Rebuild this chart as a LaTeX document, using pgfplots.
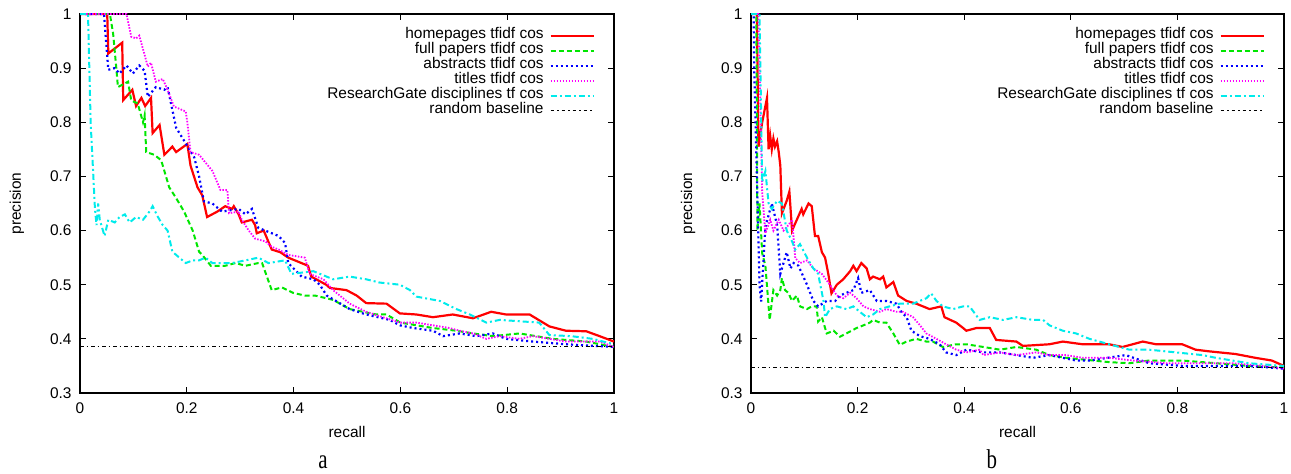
\documentclass[border=0pt]{standalone}
\usepackage{fontspec}
\setmainfont{Liberation Sans}
\newfontfamily\seriffont{Liberation Serif}
\usepackage{graphicx}
\usepackage{pgfplots}
\pgfplotsset{compat=1.18}

\definecolor{cred}{RGB}{255,0,0}
\definecolor{cgreen}{RGB}{0,230,0}
\definecolor{cblue}{RGB}{0,0,255}
\definecolor{cmag}{RGB}{255,0,255}
\definecolor{ccyan}{RGB}{0,235,235}

\tikzset{
  panellabel/.style={anchor=base, inner sep=0pt, font=\seriffont\fontsize{21}{21}\selectfont},
  sred/.style={cred, solid, line width=2.2bp},
  sgreen/.style={cgreen, line width=2bp, dash pattern=on 5bp off 3bp},
  sblue/.style={cblue, line width=2.2bp, dash pattern=on 2bp off 3bp},
  smag/.style={cmag, line width=1.8bp, dash pattern=on 1.5bp off 1.5bp},
  scyan/.style={ccyan, line width=2bp, dash pattern=on 6bp off 3bp on 2bp off 3bp},
  sbase/.style={black, line width=1.6bp, dash pattern=on 3.5bp off 3bp on 1.5bp off 3bp},
}

\pgfplotsset{
  prstyle/.style={
    scale only axis,
    width=534bp, height=379bp,
    xmin=0, xmax=1, ymin=0.3, ymax=1,
    xtick={0,0.2,0.4,0.6,0.8,1},
    ytick={0.3,0.4,0.5,0.6,0.7,0.8,0.9,1},
    font=\fontsize{15.5}{18}\selectfont,
    /pgf/number format/assume math mode=true,
    axis line style={black, line width=1.3bp},
    every tick/.style={black, line width=1bp},
    major tick length=6bp,
    tick align=inside,
    xlabel={recall}, ylabel={precision},
    xlabel style={at={(axis description cs:0.5,0)}, anchor=center, yshift=-39bp},
    ylabel style={at={(axis description cs:-0.118,0.5)}, anchor=center},
    xticklabel style={yshift=-6.5bp},
    yticklabel style={xshift=-5bp},
    legend cell align=right,
    legend plot pos=right,
    legend image code/.code={\draw[##1] (0bp,0bp) -- (43bp,0bp);},
    legend style={at={(1,1)}, anchor=north east, xshift=-19bp, yshift=-14bp,
      draw=none, fill=none, inner sep=0pt, row sep=0pt, column sep=6bp,
      font=\fontsize{15.5}{15.5}\selectfont,
      nodes={inner sep=0pt, text height=10.6bp, text depth=4.4bp}},
    clip mode=individual,
  },
}

\begin{document}
\begin{tikzpicture}
\useasboundingbox (0,0) rectangle (1291bp,474bp);

% ---------------- panel a ----------------
\begin{axis}[prstyle, at={(80bp,81bp)}, anchor=south west]
\addplot[sred] coordinates {(0,1)(0.051,1)(0.053,0.927)(0.079,0.947)(0.081,0.841)(0.098,0.86)(0.105,0.83)(0.115,0.845)(0.122,0.83)(0.133,0.845)(0.136,0.78)(0.149,0.795)(0.158,0.74)(0.173,0.755)(0.18,0.745)(0.201,0.76)(0.207,0.72)(0.22,0.68)(0.229,0.665)(0.238,0.625)(0.257,0.635)(0.272,0.645)(0.285,0.64)(0.288,0.645)(0.297,0.63)(0.303,0.615)(0.322,0.62)(0.328,0.61)(0.331,0.595)(0.344,0.6)(0.359,0.565)(0.375,0.56)(0.39,0.55)(0.427,0.535)(0.433,0.515)(0.461,0.5)(0.468,0.494)(0.499,0.49)(0.518,0.48)(0.536,0.466)(0.574,0.465)(0.599,0.447)(0.63,0.445)(0.661,0.44)(0.698,0.445)(0.736,0.438)(0.77,0.45)(0.798,0.445)(0.842,0.445)(0.879,0.423)(0.91,0.415)(0.948,0.414)(0.973,0.405)(1,0.395)};
\addlegendentry{homepages tfidf cos}
\addplot[sgreen] coordinates {(0,1)(0.056,1)(0.062,0.964)(0.068,0.9)(0.071,0.865)(0.09,0.875)(0.096,0.84)(0.108,0.835)(0.118,0.8)(0.121,0.813)(0.124,0.745)(0.139,0.74)(0.152,0.73)(0.167,0.68)(0.18,0.66)(0.195,0.635)(0.211,0.6)(0.223,0.561)(0.229,0.555)(0.245,0.535)(0.272,0.535)(0.291,0.54)(0.31,0.535)(0.334,0.54)(0.341,0.54)(0.359,0.49)(0.378,0.495)(0.399,0.485)(0.421,0.48)(0.44,0.48)(0.474,0.472)(0.505,0.455)(0.555,0.445)(0.574,0.445)(0.6,0.43)(0.661,0.42)(0.705,0.415)(0.736,0.41)(0.773,0.405)(0.823,0.41)(0.885,0.4)(0.948,0.395)(1,0.385)};
\addlegendentry{full papers tfidf cos}
\addplot[sblue] coordinates {(0,1)(0.045,1)(0.048,0.96)(0.053,0.897)(0.065,0.9)(0.074,0.89)(0.087,0.905)(0.099,0.89)(0.111,0.905)(0.121,0.895)(0.127,0.847)(0.142,0.865)(0.158,0.86)(0.164,0.865)(0.18,0.79)(0.198,0.761)(0.214,0.735)(0.223,0.7)(0.232,0.654)(0.248,0.65)(0.266,0.635)(0.297,0.64)(0.31,0.63)(0.322,0.64)(0.334,0.605)(0.372,0.59)(0.384,0.577)(0.39,0.54)(0.415,0.515)(0.437,0.51)(0.449,0.5)(0.462,0.48)(0.505,0.455)(0.536,0.445)(0.58,0.435)(0.599,0.425)(0.624,0.42)(0.661,0.415)(0.68,0.405)(0.711,0.41)(0.742,0.405)(0.773,0.41)(0.798,0.4)(0.848,0.395)(0.91,0.39)(1,0.385)};
\addlegendentry{abstracts tfidf cos}
\addplot[smag] coordinates {(0,1)(0.087,1)(0.096,0.958)(0.105,0.955)(0.111,0.96)(0.127,0.903)(0.133,0.91)(0.142,0.875)(0.155,0.88)(0.164,0.86)(0.176,0.829)(0.198,0.82)(0.201,0.8)(0.207,0.745)(0.223,0.74)(0.248,0.71)(0.263,0.675)(0.276,0.675)(0.279,0.632)(0.297,0.635)(0.303,0.62)(0.316,0.6)(0.328,0.585)(0.347,0.58)(0.359,0.57)(0.372,0.565)(0.39,0.555)(0.421,0.55)(0.43,0.52)(0.456,0.51)(0.474,0.49)(0.505,0.465)(0.536,0.45)(0.567,0.44)(0.6,0.43)(0.63,0.43)(0.661,0.425)(0.692,0.42)(0.711,0.415)(0.736,0.41)(0.761,0.4)(0.786,0.405)(0.823,0.4)(0.848,0.405)(0.91,0.395)(0.973,0.395)(1,0.385)};
\addlegendentry{titles tfidf cos}
\addplot[scyan] coordinates {(0,1)(0.015,1)(0.02,0.798)(0.025,0.7)(0.028,0.64)(0.031,0.61)(0.034,0.65)(0.037,0.62)(0.046,0.59)(0.053,0.62)(0.065,0.615)(0.074,0.625)(0.084,0.63)(0.093,0.615)(0.105,0.625)(0.118,0.62)(0.13,0.635)(0.136,0.645)(0.146,0.625)(0.155,0.61)(0.164,0.6)(0.173,0.561)(0.186,0.55)(0.198,0.54)(0.211,0.545)(0.223,0.545)(0.235,0.55)(0.248,0.54)(0.285,0.54)(0.31,0.545)(0.334,0.55)(0.353,0.54)(0.384,0.545)(0.396,0.52)(0.437,0.525)(0.474,0.51)(0.505,0.515)(0.536,0.51)(0.561,0.504)(0.599,0.5)(0.618,0.49)(0.63,0.478)(0.674,0.47)(0.705,0.455)(0.73,0.445)(0.761,0.43)(0.786,0.435)(0.86,0.43)(0.879,0.407)(0.92,0.405)(0.96,0.4)(1,0.39)};
\addlegendentry{ResearchGate disciplines tf cos}
\addplot[sbase] coordinates {(0,0.386)(1,0.386)};
\addlegendentry{random baseline}
\node[panellabel] at (axis description cs:0.455,0) [yshift=-75bp] {\scalebox{1}[1.3]{a}};
\end{axis}

% ---------------- panel b ----------------
\begin{axis}[prstyle, at={(751bp,81bp)}, anchor=south west, width=533bp]
\addplot[sred] coordinates {(0,1)(0.011,1)(0.014,0.755)(0.021,0.8)(0.03,0.845)(0.033,0.75)(0.036,0.775)(0.039,0.75)(0.042,0.77)(0.045,0.755)(0.049,0.765)(0.052,0.745)(0.055,0.72)(0.058,0.632)(0.067,0.655)(0.072,0.672)(0.077,0.6)(0.086,0.62)(0.095,0.64)(0.098,0.63)(0.108,0.65)(0.114,0.645)(0.12,0.59)(0.126,0.59)(0.133,0.56)(0.139,0.55)(0.145,0.52)(0.151,0.484)(0.161,0.5)(0.173,0.51)(0.186,0.525)(0.192,0.535)(0.198,0.525)(0.207,0.54)(0.217,0.53)(0.223,0.51)(0.229,0.515)(0.242,0.51)(0.248,0.515)(0.254,0.495)(0.267,0.505)(0.276,0.48)(0.292,0.47)(0.31,0.465)(0.335,0.455)(0.357,0.46)(0.363,0.44)(0.385,0.43)(0.398,0.42)(0.404,0.415)(0.423,0.42)(0.448,0.42)(0.46,0.398)(0.498,0.395)(0.51,0.387)(0.56,0.39)(0.585,0.395)(0.622,0.39)(0.672,0.39)(0.697,0.385)(0.735,0.395)(0.76,0.39)(0.809,0.39)(0.834,0.38)(0.859,0.377)(0.909,0.372)(0.946,0.365)(0.977,0.36)(1,0.35)};
\addlegendentry{homepages tfidf cos}
\addplot[sgreen] coordinates {(0,1)(0.01,1)(0.012,0.6)(0.016,0.65)(0.021,0.558)(0.027,0.535)(0.035,0.435)(0.042,0.49)(0.049,0.48)(0.055,0.49)(0.058,0.512)(0.064,0.49)(0.07,0.485)(0.077,0.47)(0.086,0.48)(0.092,0.46)(0.105,0.455)(0.114,0.46)(0.123,0.46)(0.126,0.432)(0.133,0.44)(0.142,0.41)(0.155,0.415)(0.167,0.404)(0.179,0.41)(0.198,0.42)(0.211,0.425)(0.223,0.43)(0.229,0.435)(0.242,0.43)(0.254,0.43)(0.267,0.41)(0.279,0.389)(0.292,0.395)(0.31,0.4)(0.329,0.395)(0.341,0.395)(0.36,0.385)(0.385,0.39)(0.404,0.39)(0.436,0.385)(0.467,0.38)(0.498,0.385)(0.535,0.38)(0.56,0.37)(0.591,0.365)(0.622,0.362)(0.672,0.357)(0.71,0.355)(0.747,0.36)(0.809,0.36)(0.872,0.355)(0.934,0.35)(1,0.347)};
\addlegendentry{full papers tfidf cos}
\addplot[sblue] coordinates {(0,1)(0.005,1)(0.006,0.9)(0.016,0.5)(0.019,0.469)(0.027,0.607)(0.039,0.65)(0.049,0.61)(0.055,0.52)(0.067,0.56)(0.074,0.53)(0.08,0.54)(0.089,0.535)(0.105,0.5)(0.117,0.47)(0.126,0.46)(0.142,0.47)(0.158,0.47)(0.167,0.48)(0.179,0.485)(0.192,0.49)(0.201,0.512)(0.207,0.485)(0.223,0.49)(0.236,0.47)(0.254,0.47)(0.273,0.465)(0.282,0.45)(0.292,0.44)(0.301,0.415)(0.317,0.405)(0.335,0.4)(0.354,0.39)(0.366,0.375)(0.385,0.37)(0.404,0.38)(0.436,0.375)(0.467,0.375)(0.498,0.37)(0.529,0.365)(0.56,0.37)(0.61,0.36)(0.635,0.36)(0.703,0.37)(0.747,0.355)(0.81,0.35)(0.934,0.35)(1,0.345)};
\addlegendentry{abstracts tfidf cos}
\addplot[smag] coordinates {(0,1)(0.014,1)(0.021,0.669)(0.027,0.595)(0.036,0.62)(0.042,0.6)(0.052,0.62)(0.061,0.6)(0.07,0.61)(0.077,0.62)(0.083,0.549)(0.092,0.54)(0.105,0.545)(0.117,0.53)(0.133,0.52)(0.148,0.5)(0.161,0.48)(0.173,0.475)(0.186,0.485)(0.198,0.475)(0.211,0.46)(0.223,0.455)(0.242,0.45)(0.254,0.455)(0.273,0.45)(0.285,0.45)(0.304,0.44)(0.317,0.425)(0.329,0.41)(0.348,0.4)(0.366,0.39)(0.385,0.38)(0.404,0.375)(0.429,0.38)(0.436,0.37)(0.467,0.375)(0.498,0.37)(0.535,0.375)(0.56,0.37)(0.591,0.37)(0.622,0.365)(0.672,0.365)(0.716,0.36)(0.778,0.355)(0.84,0.355)(0.903,0.355)(0.965,0.35)(1,0.345)};
\addlegendentry{titles tfidf cos}
\addplot[scyan] coordinates {(0,1)(0.016,1)(0.021,0.69)(0.027,0.71)(0.033,0.65)(0.039,0.64)(0.049,0.655)(0.058,0.65)(0.067,0.6)(0.077,0.58)(0.083,0.565)(0.092,0.575)(0.105,0.55)(0.117,0.53)(0.126,0.52)(0.13,0.5)(0.136,0.47)(0.139,0.44)(0.148,0.455)(0.161,0.46)(0.179,0.455)(0.192,0.46)(0.204,0.45)(0.217,0.44)(0.229,0.445)(0.242,0.455)(0.26,0.46)(0.279,0.465)(0.304,0.465)(0.329,0.475)(0.338,0.484)(0.348,0.47)(0.36,0.46)(0.379,0.455)(0.398,0.46)(0.41,0.46)(0.429,0.435)(0.448,0.44)(0.473,0.435)(0.498,0.44)(0.529,0.435)(0.548,0.435)(0.56,0.425)(0.585,0.415)(0.61,0.41)(0.635,0.4)(0.672,0.39)(0.71,0.38)(0.747,0.38)(0.797,0.375)(0.847,0.37)(0.872,0.365)(0.934,0.355)(1,0.35)};
\addlegendentry{ResearchGate disciplines tf cos}
\addplot[sbase] coordinates {(0,0.347)(1,0.347)};
\addlegendentry{random baseline}
\node[panellabel] at (axis description cs:0.452,0) [yshift=-75bp] {\scalebox{1}[1.3]{b}};
\end{axis}
\end{tikzpicture}
\end{document}
